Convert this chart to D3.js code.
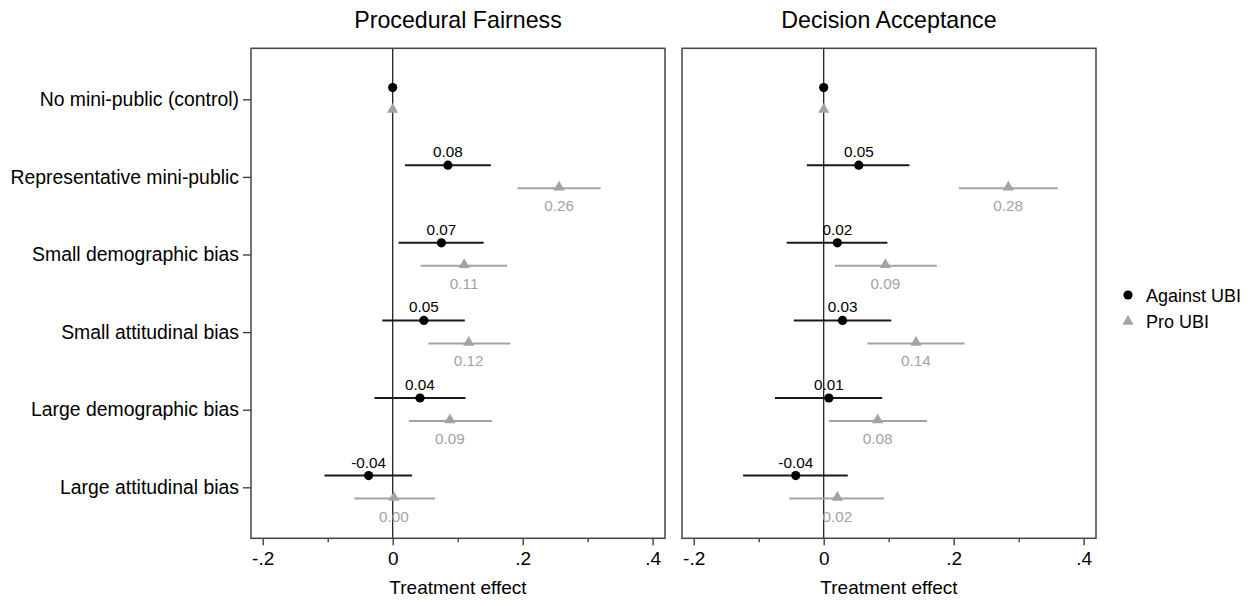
<!DOCTYPE html>
<html><head><meta charset="utf-8">
<script src="https://cdn.jsdelivr.net/npm/d3@7"></script>
<style>body{margin:0;background:#fff}svg text{font-family:"Liberation Sans",Arial,sans-serif}</style>
</head><body>
<svg id="c" width="1252" height="600"></svg>
<script>
const categories = ["No mini-public (control)","Representative mini-public","Small demographic bias","Small attitudinal bias","Large demographic bias","Large attitudinal bias"];
const panels = ["Procedural Fairness","Decision Acceptance"];
const seriesNames = ["Against UBI","Pro UBI"];
const xTicks = [-0.2,0,0.2,0.4];
const xTickLabels = ["-.2","0",".2",".4"];
const xMinorTicks = [-0.1,0.1,0.3];

// Procedural Fairness
const pfAgainst    = [0, 0.085, 0.075, 0.048, 0.042, -0.037];
const pfAgainstLo  = [null, 0.019, 0.009, -0.016, -0.028, -0.105];
const pfAgainstHi  = [null, 0.151, 0.140, 0.111, 0.112, 0.030];
const pfAgainstLab = [null, "0.08","0.07","0.05","0.04","-0.04"];
const pfPro        = [0, 0.256, 0.110, 0.117, 0.088, 0.002];
const pfProLo      = [null, 0.192, 0.043, 0.055, 0.025, -0.059];
const pfProHi      = [null, 0.320, 0.176, 0.181, 0.153, 0.065];
const pfProLab     = [null, "0.26","0.11","0.12","0.09","0.00"];
// Decision Acceptance
const daAgainst    = [0, 0.054, 0.021, 0.029, 0.008, -0.043];
const daAgainstLo  = [null, -0.026, -0.057, -0.046, -0.075, -0.124];
const daAgainstHi  = [null, 0.132, 0.098, 0.104, 0.090, 0.037];
const daAgainstLab = [null, "0.05","0.02","0.03","0.01","-0.04"];
const daPro        = [0, 0.284, 0.095, 0.142, 0.083, 0.021];
const daProLo      = [null, 0.208, 0.017, 0.067, 0.008, -0.053];
const daProHi      = [null, 0.360, 0.174, 0.217, 0.159, 0.093];
const daProLab     = [null, "0.28","0.09","0.14","0.08","0.02"];

const panelData = [
  {against:pfAgainst, aLo:pfAgainstLo, aHi:pfAgainstHi, aLab:pfAgainstLab, pro:pfPro, pLo:pfProLo, pHi:pfProHi, pLab:pfProLab},
  {against:daAgainst, aLo:daAgainstLo, aHi:daAgainstHi, aLab:daAgainstLab, pro:daPro, pLo:daProLo, pHi:daProHi, pLab:daProLab}
];

const svg = d3.select("#c");
const plotTop = 48.3, plotBottom = 538.3;
const panelX = [[251,665],[682,1096]];
const domain = [-0.218, 0.419];
const black = "#000", grey = "#a3a3a3";

const y = d3.scalePoint().domain(categories).range([plotTop,plotBottom]).padding(0.657);
const triangle = d3.symbol().type(d3.symbolTriangle).size(55);

panels.forEach((title, pi) => {
  const [x0,x1] = panelX[pi];
  const x = d3.scaleLinear().domain(domain).range([x0,x1]);
  const g = svg.append("g");
  const d = panelData[pi];

  g.append("text").attr("x",(x0+x1)/2).attr("y",28).attr("text-anchor","middle")
    .attr("font-size",23.2).attr("fill","#000").text(title);

  const ax = d3.axisBottom(x).tickValues(xTicks).tickFormat((v,i)=>xTickLabels[i]).tickSize(7).tickPadding(6);
  const axg = g.append("g").attr("transform",`translate(0,${plotBottom})`).call(ax);
  axg.select(".domain").remove();
  axg.selectAll("line").attr("stroke","#333").attr("stroke-width",1.3);
  axg.selectAll("text").attr("font-size",19).attr("fill","#000").attr("font-family","Liberation Sans, Arial, sans-serif");
  const axm = d3.axisBottom(x).tickValues(xMinorTicks).tickFormat("").tickSize(4);
  const axmg = g.append("g").attr("transform",`translate(0,${plotBottom})`).call(axm);
  axmg.select(".domain").remove();
  axmg.selectAll("line").attr("stroke","#333").attr("stroke-width",1.3);

  g.append("text").attr("x",(x0+x1)/2).attr("y",594).attr("text-anchor","middle")
    .attr("font-size",19).attr("fill","#000").text("Treatment effect");

  if (pi === 0) {
    const ay = d3.axisLeft(y).tickSize(8).tickPadding(4);
    const ayg = g.append("g").attr("transform",`translate(${x0},0)`).call(ay);
    ayg.select(".domain").remove();
    ayg.selectAll("line").attr("stroke","#333").attr("stroke-width",1.3);
    ayg.selectAll("text").attr("font-size",19.4).attr("fill","#000").attr("font-family","Liberation Sans, Arial, sans-serif");
  }

  g.append("line").attr("x1",x(0)).attr("x2",x(0)).attr("y1",plotTop).attr("y2",plotBottom)
    .attr("stroke","#222").attr("stroke-width",1.3);

  g.append("rect").attr("x",x0).attr("y",plotTop).attr("width",x1-x0).attr("height",plotBottom-plotTop)
    .attr("fill","none").attr("stroke","#444").attr("stroke-width",1.5);

  categories.forEach((c,i) => {
    const ya = y(c) - 11.7, yp = y(c) + 11.3;
    if (d.pLo[i] !== null) {
      g.append("line").attr("x1",x(d.pLo[i])).attr("x2",x(d.pHi[i])).attr("y1",yp).attr("y2",yp)
        .attr("stroke",grey).attr("stroke-width",2);
    }
    g.append("path").attr("d",triangle).attr("transform",`translate(${x(d.pro[i])},${yp-1})`).attr("fill",grey);
    if (d.pLab[i] !== null) {
      g.append("text").attr("x",x(d.pro[i])).attr("y",yp+23).attr("text-anchor","middle")
        .attr("font-size",15.3).attr("fill",grey).text(d.pLab[i]);
    }
    if (d.aLo[i] !== null) {
      g.append("line").attr("x1",x(d.aLo[i])).attr("x2",x(d.aHi[i])).attr("y1",ya).attr("y2",ya)
        .attr("stroke","#1a1a1a").attr("stroke-width",2);
    }
    g.append("circle").attr("cx",x(d.against[i])).attr("cy",ya).attr("r",4.6).attr("fill",black);
    if (d.aLab[i] !== null) {
      g.append("text").attr("x",x(d.against[i])).attr("y",ya-8).attr("text-anchor","middle")
        .attr("font-size",15.3).attr("fill","#000").text(d.aLab[i]);
    }
  });
});

const lg = svg.append("g");
seriesNames.forEach((s,i) => {
  const ly = 295 + i*26.5;
  if (i === 0) lg.append("circle").attr("cx",1128).attr("cy",ly).attr("r",4.6).attr("fill",black);
  else lg.append("path").attr("d",triangle).attr("transform",`translate(1128,${ly})`).attr("fill",grey);
  lg.append("text").attr("x",1146).attr("y",ly+6.5).attr("font-size",18).attr("fill","#000").text(s);
});
</script>
</body></html>
